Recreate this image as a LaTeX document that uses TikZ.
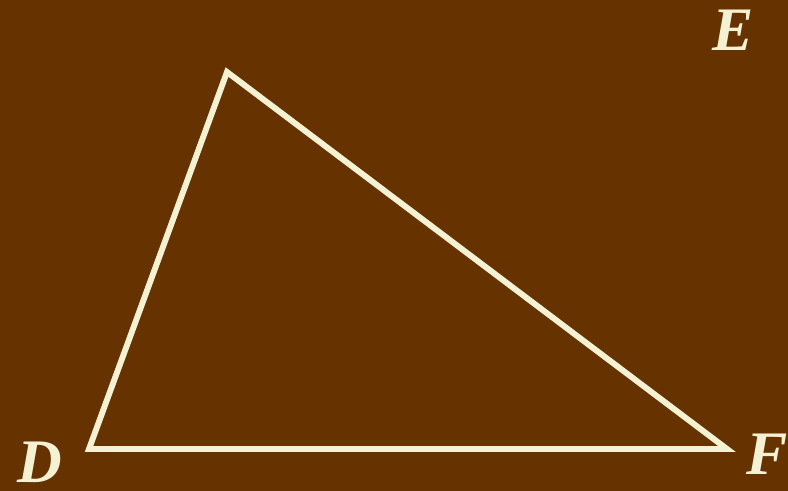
\documentclass[tikz,border=0pt]{standalone}
\usepackage{fontspec}
\setmainfont{Liberation Serif}
\usetikzlibrary{positioning}
\definecolor{bgbrown}{RGB}{102,51,0}
\definecolor{chalk}{RGB}{245,242,212}

\begin{document}
\begin{tikzpicture}[
  x=0.025cm, y=-0.025cm,
  side/.style={draw=chalk, line width=4.2pt, line join=miter},
  vlabel/.style={text=chalk, font=\fontsize{44}{44}\selectfont\bfseries\itshape, anchor=base, inner sep=0pt}
]
  % Background
  \fill[bgbrown] (0,0) rectangle (788,491);
  \useasboundingbox (0,0) rectangle (788,491);

  % Vertices
  \coordinate (vD) at (89,449);
  \coordinate (vE) at (227,72);
  \coordinate (vF) at (727,449);

  % Triangle
  \draw[side] (vD) -- (vE) -- (vF) -- cycle;

  % Labels
  \node[vlabel] (D) at (40,482) {D};
  \node[vlabel] (E) at (733,51) {E};
  \node[vlabel] (F) at (767,474) {F};
\end{tikzpicture}
\end{document}
